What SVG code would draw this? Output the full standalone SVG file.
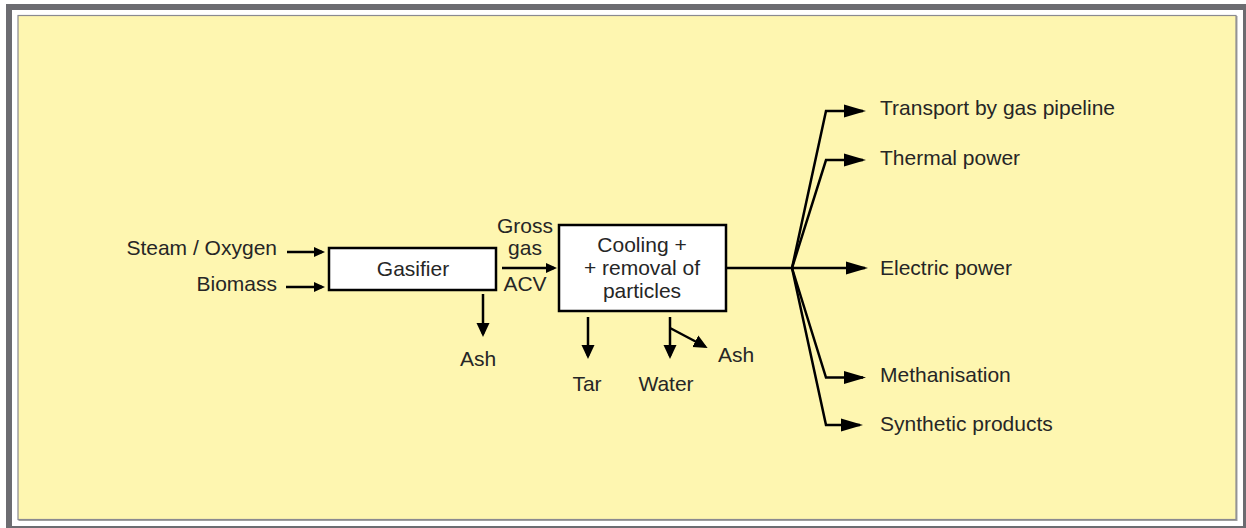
<svg xmlns="http://www.w3.org/2000/svg" width="1246" height="528" viewBox="0 0 1246 528">
<style>
text{font-family:"Liberation Sans",Arial,sans-serif;font-size:21px;fill:#262626}
.box{fill:#fff;stroke:#000;stroke-width:2.5}
.ln{fill:none;stroke:#000;stroke-width:2.5}
.s{marker-end:url(#as)}
.m{marker-end:url(#am)}
.l{marker-end:url(#al)}
</style>
<defs>
<marker id="as" markerUnits="userSpaceOnUse" markerWidth="13" markerHeight="12" refX="8" refY="6" orient="auto"><path d="M0,1 L11,6 L0,11 z" fill="#000"/></marker>
<marker id="am" markerUnits="userSpaceOnUse" markerWidth="16" markerHeight="14" refX="11" refY="7" orient="auto"><path d="M0,0.5 L14,7 L0,13.5 z" fill="#000"/></marker>
<marker id="al" markerUnits="userSpaceOnUse" markerWidth="23" markerHeight="14" refX="19" refY="7" orient="auto"><path d="M0,0.5 L22,7 L0,13.5 z" fill="#000"/></marker>
</defs>
<rect x="0" y="0" width="1246" height="528" fill="#fff"/>
<rect x="6" y="4" width="1240" height="524" fill="#6c6c71"/>
<rect x="12" y="10" width="1231" height="516" fill="#fff"/>
<rect x="18.5" y="16" width="1219" height="505" fill="#a0a0a0"/>
<rect x="18" y="15.5" width="1218" height="504" fill="#fef6b0" stroke="#8a8a90" stroke-width="1.2"/>
<g id="connectors">
<line class="ln s" x1="287" y1="252" x2="322" y2="252"/>
<line class="ln s" x1="286" y1="287" x2="322" y2="287"/>
<line class="ln s" x1="502" y1="268" x2="554" y2="268"/>
<line class="ln m" x1="483" y1="294" x2="483" y2="334"/>
<line class="ln m" x1="588" y1="317" x2="588" y2="356"/>
<line class="ln m" x1="670" y1="317" x2="670" y2="356"/>
<line class="ln m" x1="670" y1="328" x2="705" y2="346.5"/>
<line class="ln" x1="727" y1="268" x2="792" y2="268"/>
<polyline class="ln l" points="792,268 826,111 863,111"/>
<polyline class="ln l" points="792,268 826,160 863,160"/>
<line class="ln l" x1="792" y1="268" x2="865" y2="268"/>
<polyline class="ln l" points="792,268 826,377.5 863,377.5"/>
<polyline class="ln l" points="792,268 826,425 860,425"/>
</g>
<g id="in-steam"><text x="277" y="255" text-anchor="end">Steam / Oxygen</text></g>
<g id="in-biomass"><text x="277" y="291" text-anchor="end">Biomass</text></g>
<g id="gasifier"><rect class="box" x="329" y="248" width="167" height="42"/><text x="413" y="276" text-anchor="middle">Gasifier</text></g>
<g id="gross-gas"><text x="525" y="233" text-anchor="middle">Gross</text><text x="525" y="255" text-anchor="middle">gas</text><text x="525" y="291" text-anchor="middle">ACV</text></g>
<g id="ash1"><text x="478" y="366" text-anchor="middle">Ash</text></g>
<g id="cooling"><rect class="box" x="559" y="225" width="167" height="86"/><text x="642" y="252" text-anchor="middle">Cooling +</text><text x="642" y="275" text-anchor="middle">+ removal of</text><text x="642" y="298" text-anchor="middle">particles</text></g>
<g id="tar"><text x="587" y="391" text-anchor="middle">Tar</text></g>
<g id="water"><text x="666" y="391" text-anchor="middle">Water</text></g>
<g id="ash2"><text x="718" y="362">Ash</text></g>
<g id="out-transport"><text x="880" y="115">Transport by gas pipeline</text></g>
<g id="out-thermal"><text x="880" y="165">Thermal power</text></g>
<g id="out-electric"><text x="880" y="275">Electric power</text></g>
<g id="out-methanisation"><text x="880" y="382">Methanisation</text></g>
<g id="out-synthetic"><text x="880" y="430.5">Synthetic products</text></g>
</svg>
